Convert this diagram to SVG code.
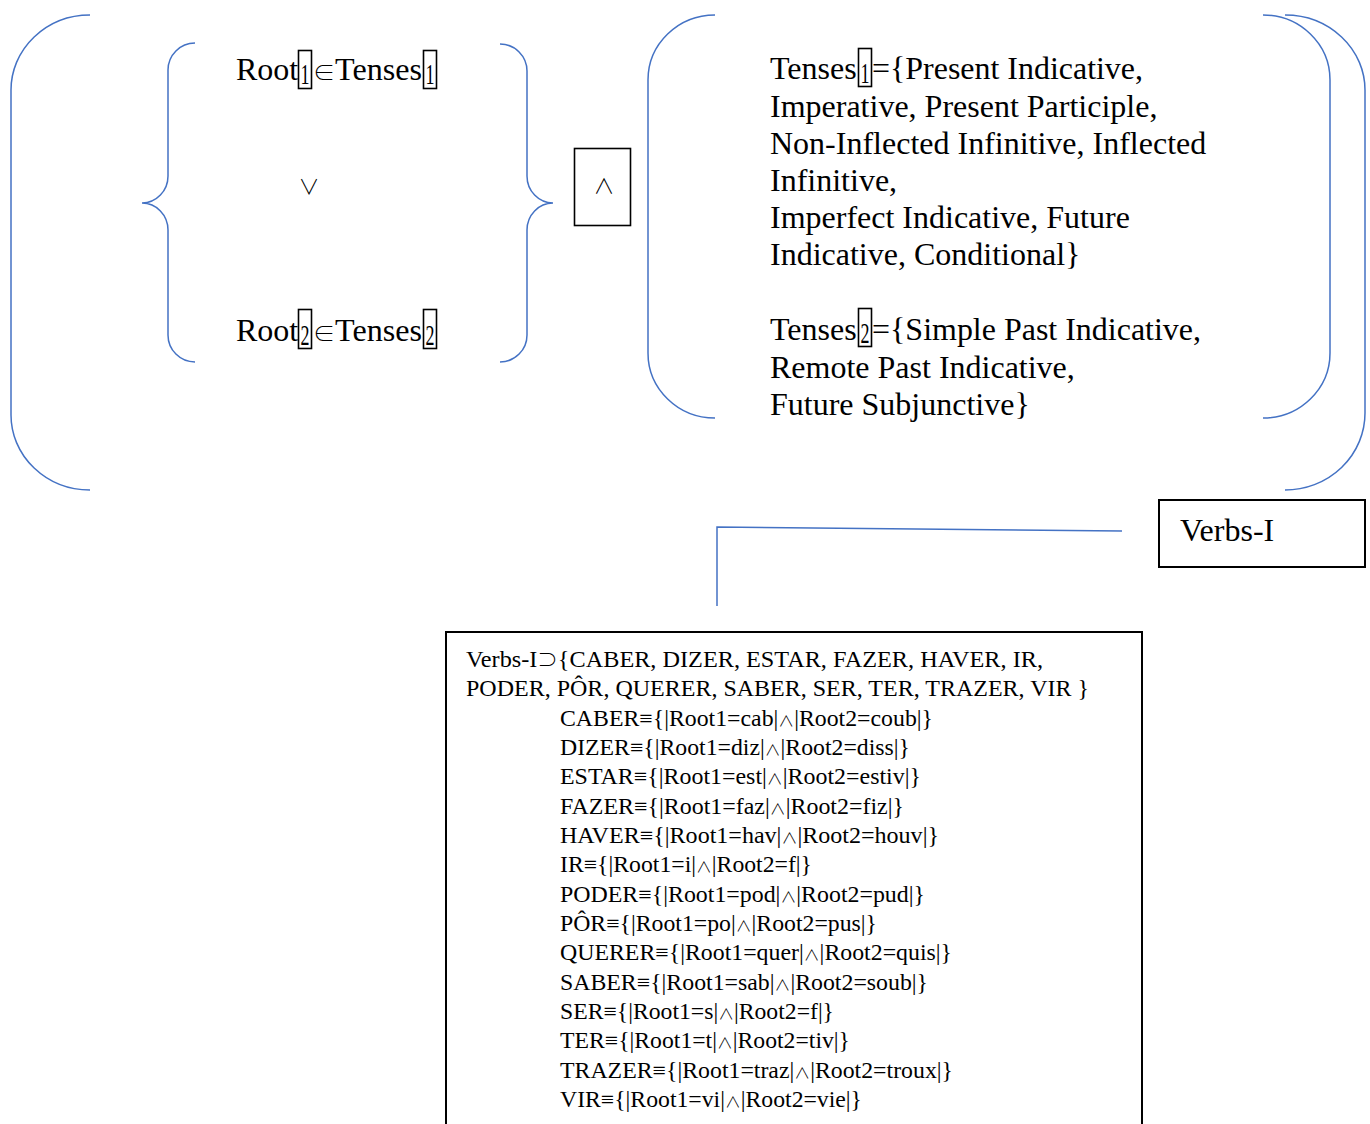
<svg xmlns="http://www.w3.org/2000/svg" width="1370" height="1124" viewBox="0 0 1370 1124">
<style>
.br{fill:none;stroke:#4472C4;stroke-width:1.5}
.bx{fill:none;stroke:#000;stroke-width:1.6}
.box{fill:#fff;stroke:#000;stroke-width:2}
.t{font-family:"Liberation Serif","Times New Roman",serif;font-size:32px;fill:#000}
.s{font-family:"Liberation Serif","Times New Roman",serif;font-size:30px;fill:#000}
.m{font-family:"Noto Sans CJK JP",sans-serif;font-weight:300;font-size:21px;fill:#000}
.y{font-family:"Noto Sans CJK JP",sans-serif;font-weight:300}
.b{font-family:"Liberation Serif","Times New Roman",serif;font-size:22.5px;fill:#000}
</style>
<rect width="1370" height="1124" fill="#fff"/>
<g id="brackets">
<path class="br" d="M90,15 A79,75 0 0 0 11,90 V415 A79,75 0 0 0 90,490"/>
<path class="br" d="M195,43 A27,27 0 0 0 168,70 V176 A26,27 0 0 1 142,203 A26,27 0 0 1 168,230 V335 A27,27 0 0 0 195,362"/>
<path class="br" d="M500,44 A27,27 0 0 1 527,71 V176 A26,27 0 0 0 553,203 A26,27 0 0 0 527,230 V335 A27,27 0 0 1 500,362"/>
<path class="br" d="M715,15 A67,65 0 0 0 648,80 V353 A67,65 0 0 0 715,418"/>
<path class="br" d="M1263,15 A67,65 0 0 1 1330,80 V353 A67,65 0 0 1 1263,418"/>
<path class="br" d="M1285,15 A80,75 0 0 1 1365,90 V413 A80,77 0 0 1 1285,490"/>
</g>
<g id="roots">
<text class="t" x="236" y="80">Root</text>
<rect class="bx" x="298.5" y="50.5" width="13" height="38"/>
<text class="s" transform="translate(305,84) scale(0.6,1)" text-anchor="middle">1</text>
<text class="t" x="313" y="80" textLength="109" lengthAdjust="spacingAndGlyphs"><tspan class="y" font-size="22">∈</tspan>Tenses</text>
<rect class="bx" x="423.5" y="50.5" width="13" height="38"/>
<text class="s" transform="translate(430,84) scale(0.6,1)" text-anchor="middle">1</text>
<text class="m" x="309" y="194" text-anchor="middle">∨</text>
<text class="t" x="236" y="341">Root</text>
<rect class="bx" x="298.5" y="309.5" width="13" height="39"/>
<text class="s" transform="translate(305,345) scale(0.6,1)" text-anchor="middle">2</text>
<text class="t" x="313" y="341" textLength="109" lengthAdjust="spacingAndGlyphs"><tspan class="y" font-size="22">∈</tspan>Tenses</text>
<rect class="bx" x="423.5" y="309.5" width="13" height="39"/>
<text class="s" transform="translate(430,345) scale(0.6,1)" text-anchor="middle">2</text>
</g>
<g id="and-node">
<rect class="bx" x="574.5" y="148.5" width="56" height="77"/>
<text class="m" x="604" y="193" text-anchor="middle">∧</text>
</g>
<g id="tenses">
<text class="t" x="770" y="79">Tenses</text>
<rect class="bx" x="858.5" y="48.5" width="13" height="38"/>
<text class="s" transform="translate(865,83) scale(0.6,1)" text-anchor="middle">1</text>
<text class="t" x="872" y="79" textLength="271" lengthAdjust="spacingAndGlyphs">={Present Indicative,</text>
<text class="t" x="770" y="116.5">Imperative, Present Participle,</text>
<text class="t" x="770" y="154">Non-Inflected Infinitive, Inflected</text>
<text class="t" x="770" y="191">Infinitive,</text>
<text class="t" x="770" y="228">Imperfect Indicative, Future</text>
<text class="t" x="770" y="265">Indicative, Conditional}</text>
<text class="t" x="770" y="340">Tenses</text>
<rect class="bx" x="858.5" y="308.5" width="13" height="38"/>
<text class="s" transform="translate(865,343) scale(0.6,1)" text-anchor="middle">2</text>
<text class="t" x="872" y="340" textLength="329" lengthAdjust="spacingAndGlyphs">={Simple Past Indicative,</text>
<text class="t" x="770" y="377.5">Remote Past Indicative,</text>
<text class="t" x="770" y="414.5">Future Subjunctive}</text>
</g>
<g id="connectors">
<path class="br" d="M1122,531 L717,527 L717,606"/>
</g>
<g id="verbs-i">
<rect class="box" x="1159" y="500" width="206" height="67"/>
<text class="t" x="1180" y="541">Verbs-I</text>
</g>
<g id="verbs-list">
<rect class="box" x="446" y="632" width="696" height="510"/>
<text class="b" x="466" y="667" textLength="577" lengthAdjust="spacingAndGlyphs">Verbs-I<tspan class="y" font-size="19">⊃</tspan>{CABER, DIZER, ESTAR, FAZER, HAVER, IR,</text>
<text class="b" x="466" y="696" textLength="623" lengthAdjust="spacingAndGlyphs">PODER, PÔR, QUERER, SABER, SER, TER, TRAZER, VIR }</text>
<text class="b" x="560" y="725.5" textLength="373" lengthAdjust="spacingAndGlyphs">CABER≡{|Root1=cab|<tspan class="y" font-size="15">∧</tspan>|Root2=coub|}</text>
<text class="b" x="560" y="755" textLength="350" lengthAdjust="spacingAndGlyphs">DIZER≡{|Root1=diz|<tspan class="y" font-size="15">∧</tspan>|Root2=diss|}</text>
<text class="b" x="560" y="784" textLength="361" lengthAdjust="spacingAndGlyphs">ESTAR≡{|Root1=est|<tspan class="y" font-size="15">∧</tspan>|Root2=estiv|}</text>
<text class="b" x="560" y="813.5" textLength="344" lengthAdjust="spacingAndGlyphs">FAZER≡{|Root1=faz|<tspan class="y" font-size="15">∧</tspan>|Root2=fiz|}</text>
<text class="b" x="560" y="843" textLength="379" lengthAdjust="spacingAndGlyphs">HAVER≡{|Root1=hav|<tspan class="y" font-size="15">∧</tspan>|Root2=houv|}</text>
<text class="b" x="560" y="872" textLength="252" lengthAdjust="spacingAndGlyphs">IR≡{|Root1=i|<tspan class="y" font-size="15">∧</tspan>|Root2=f|}</text>
<text class="b" x="560" y="901.5" textLength="365" lengthAdjust="spacingAndGlyphs">PODER≡{|Root1=pod|<tspan class="y" font-size="15">∧</tspan>|Root2=pud|}</text>
<text class="b" x="560" y="931" textLength="317" lengthAdjust="spacingAndGlyphs">PÔR≡{|Root1=po|<tspan class="y" font-size="15">∧</tspan>|Root2=pus|}</text>
<text class="b" x="560" y="960" textLength="392" lengthAdjust="spacingAndGlyphs">QUERER≡{|Root1=quer|<tspan class="y" font-size="15">∧</tspan>|Root2=quis|}</text>
<text class="b" x="560" y="989.5" textLength="368" lengthAdjust="spacingAndGlyphs">SABER≡{|Root1=sab|<tspan class="y" font-size="15">∧</tspan>|Root2=soub|}</text>
<text class="b" x="560" y="1019" textLength="274" lengthAdjust="spacingAndGlyphs">SER≡{|Root1=s|<tspan class="y" font-size="15">∧</tspan>|Root2=f|}</text>
<text class="b" x="560" y="1048" textLength="290" lengthAdjust="spacingAndGlyphs">TER≡{|Root1=t|<tspan class="y" font-size="15">∧</tspan>|Root2=tiv|}</text>
<text class="b" x="560" y="1077.5" textLength="393" lengthAdjust="spacingAndGlyphs">TRAZER≡{|Root1=traz|<tspan class="y" font-size="15">∧</tspan>|Root2=troux|}</text>
<text class="b" x="560" y="1107" textLength="302" lengthAdjust="spacingAndGlyphs">VIR≡{|Root1=vi|<tspan class="y" font-size="15">∧</tspan>|Root2=vie|}</text>
</g>
</svg>
